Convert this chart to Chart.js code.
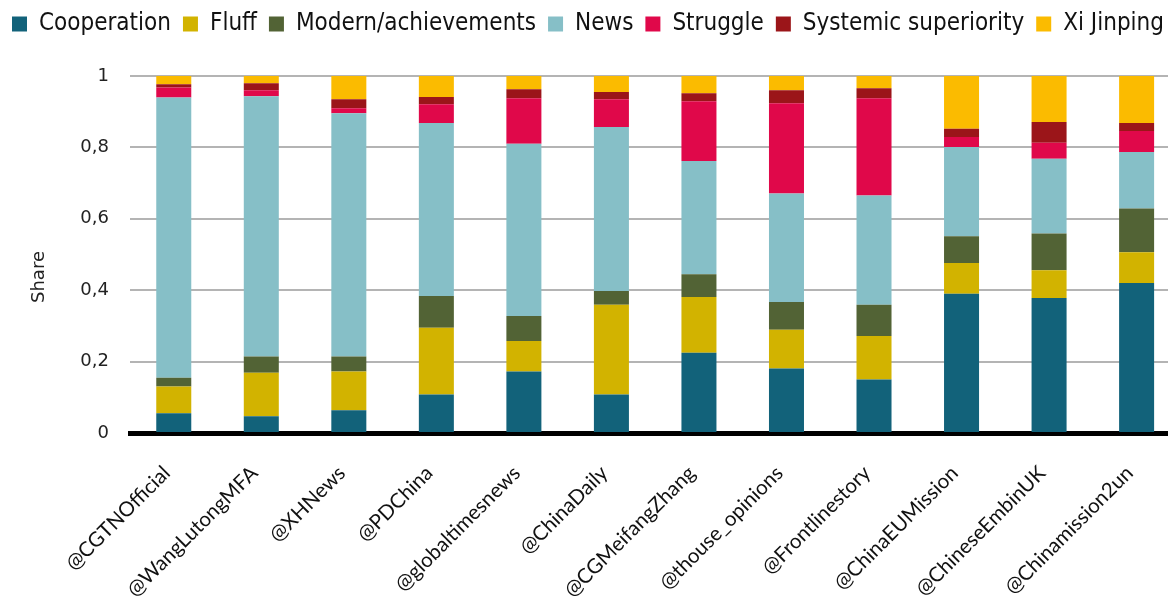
<!DOCTYPE html>
<html>
<head>
<meta charset="utf-8">
<script src="https://cdn.jsdelivr.net/npm/chart.js@4.4.1/dist/chart.umd.min.js"></script>
<style>
html,body{margin:0;padding:0;background:#fff;overflow:hidden;width:1168px;height:601px;}
canvas{display:block;}
</style>
</head>
<body>
<canvas id="c" width="1182" height="601"></canvas>
<script>
const categories = ['@CGTNOfficial','@WangLutongMFA','@XHNews','@PDChina','@globaltimesnews','@ChinaDaily','@CGMeifangZhang','@thouse_opinions','@Frontlinestory','@ChinaEUMission','@ChineseEmbinUK','@Chinamission2un'];
const cooperation = [0.055,0.047,0.064,0.108,0.172,0.108,0.225,0.181,0.150,0.390,0.378,0.420];
const fluff       = [0.075,0.122,0.108,0.187,0.086,0.251,0.156,0.108,0.122,0.086,0.078,0.086];
const modern      = [0.025,0.045,0.042,0.089,0.070,0.039,0.064,0.078,0.087,0.075,0.103,0.123];
const news        = [0.785,0.729,0.682,0.484,0.482,0.459,0.317,0.304,0.306,0.250,0.209,0.158];
const struggle    = [0.028,0.017,0.014,0.053,0.128,0.078,0.167,0.253,0.273,0.028,0.045,0.059];
const systemic    = [0.009,0.020,0.025,0.020,0.025,0.020,0.023,0.036,0.028,0.023,0.058,0.022];
const xiJinping   = [0.023,0.020,0.065,0.059,0.037,0.045,0.048,0.040,0.034,0.148,0.129,0.132];
const seriesNames = ['Cooperation','Fluff','Modern/achievements','News','Struggle','Systemic superiority','Xi Jinping'];
const yTickLabels = ['0','0,2','0,4','0,6','0,8','1'];
const yTitle = 'Share';

const colors = ['#12627a','#d2b300','#526335','#86bfc7','#e0084a','#9b1519','#fbbb00'];
const seriesData = [cooperation, fluff, modern, news, struggle, systemic, xiJinping];

const legendHeight = {
  id: 'legendHeight',
  afterInit(chart) {
    const lg = chart.legend;
    if (lg && !lg._patched) {
      const f = lg.fit;
      lg.fit = function() { f.call(this); this.height = 76; };
      lg._patched = true;
    }
  }
};
const yTitlePlugin = {
  id: 'yTitlePlugin',
  afterDraw(chart) {
    const ctx = chart.ctx;
    ctx.save();
    ctx.translate(39, 277);
    ctx.rotate(-Math.PI / 2);
    ctx.font = '18px "DejaVu Sans"';
    ctx.fillStyle = '#222';
    ctx.textAlign = 'center';
    ctx.textBaseline = 'middle';
    ctx.fillText(yTitle, 0, 0);
    ctx.restore();
  }
};

new Chart(document.getElementById('c'), {
  type: 'bar',
  data: {
    labels: categories,
    datasets: seriesNames.map((n, i) => ({
      label: n,
      data: seriesData[i],
      backgroundColor: colors[i],
      borderWidth: 0,
      barPercentage: 0.4,
      categoryPercentage: 1
    }))
  },
  plugins: [legendHeight, yTitlePlugin],
  options: {
    responsive: false,
    animation: false,
    devicePixelRatio: 1,
    layout: { padding: 0 },
    plugins: {
      tooltip: { enabled: false },
      legend: {
        position: 'top',
        align: 'start',
        labels: {
          boxWidth: 15,
          boxHeight: 15,
          padding: 12,
          color: '#111',
          font: { family: '"DejaVu Sans Condensed", sans-serif', size: 24 }
        }
      }
    },
    scales: {
      x: {
        stacked: true,
        z: 1,
        grid: { display: false, drawTicks: false },
        border: { display: true, color: '#000', width: 5 },
        ticks: {
          autoSkip: false,
          maxRotation: 45,
          minRotation: 45,
          padding: 28,
          labelOffset: -7,
          color: '#111',
          font: { family: 'Lato, sans-serif', size: 20.5 }
        },
        afterFit(s) { s.height = 168; }
      },
      y: {
        stacked: true,
        min: 0,
        max: 1,
        grid: { color: '#b4b4b4', lineWidth: 2, drawTicks: false },
        border: { display: false },
        ticks: {
          stepSize: 0.2,
          padding: 21,
          color: '#222',
          font: { family: '"DejaVu Sans", sans-serif', size: 18 },
          callback: (v, i) => yTickLabels[i]
        },
        afterFit(s) { s.width = 130; }
      }
    }
  }
});
</script>
</body>
</html>
